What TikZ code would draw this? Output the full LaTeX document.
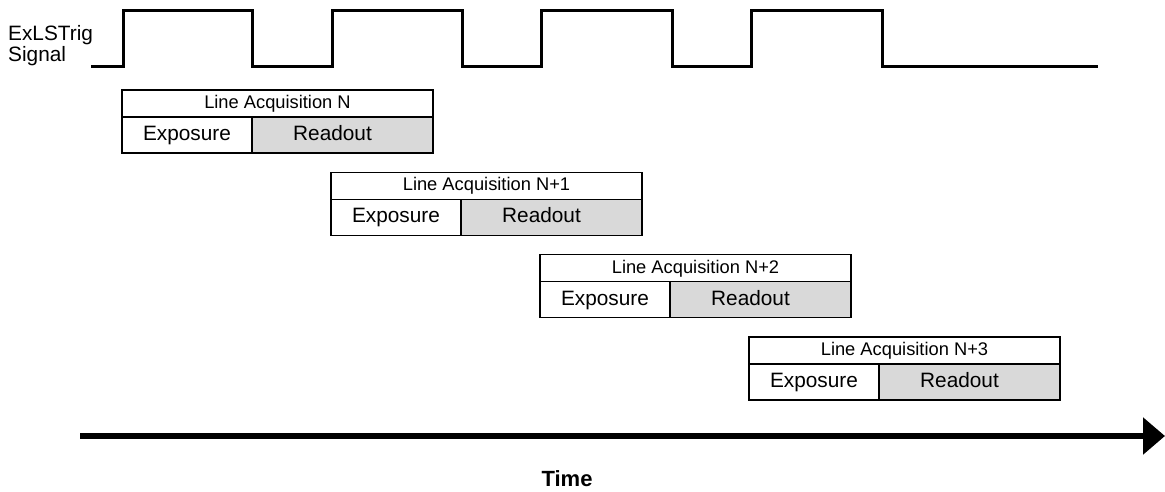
\documentclass[tikz,border=0pt]{standalone}
\usepackage{fontspec}
\setmainfont{Liberation Sans}
\usetikzlibrary{arrows.meta,positioning}

\begin{document}
\begin{tikzpicture}[x=1pt,y=-1pt,
	head/.style={draw, line width=1.2pt, minimum width=311pt, minimum height=27pt,
		inner sep=0pt, outer sep=0pt, text height=13pt, text depth=3pt,
		font=\fontsize{18.3}{20}\selectfont},
	cell/.style={draw, line width=1.2pt, minimum height=36pt,
		inner sep=0pt, outer sep=0pt, text height=15pt, text depth=4pt,
		font=\fontsize{20.8}{22}\selectfont}]
	\path[use as bounding box] (0,0) rectangle (1165,491);
	% Trigger signal with its label
	\node[anchor=west, align=left, inner sep=0pt, font=\fontsize{20.8}{21}\selectfont] (siglabel) at (8,46) {ExLSTrig\\Signal};
	\draw[line width=3pt] (91,66) -- (123,66) -- (123,10) -- (252,10) -- (252,66)
		-- (332,66) -- (332,10) -- (462,10) -- (462,66)
		-- (541,66) -- (541,10) -- (672,10) -- (672,66)
		-- (751,66) -- (751,10) -- (882,10) -- (882,66) -- (1098,66);
	
	% One acquisition per trigger, shifted in time
	\foreach \i in {0,...,3} {
		\node[head, anchor=north west] (head\i) at ({122+209*\i},{90+82.3*\i}) {Line Acquisition N\ifnum\i>0 +\i\fi};
		\node[cell, minimum width=130pt, anchor=north west] (exp\i) at (head\i.south west) {Exposure};
		\node[cell, minimum width=181pt, fill=gray!30, anchor=north west] (read\i) at (exp\i.north east) {Readout\hspace*{20pt}};
	}
	
	% Time axis
	\coordinate (tstart) at (80,436);
	\coordinate (tend) at (1165,436);
	\draw[line width=5.5pt, -{Triangle[length=22pt,width=36pt]}] (tstart) -- (tend);
	\node[font=\bfseries\fontsize{22}{24}\selectfont] (time) at (567,479) {Time};
\end{tikzpicture}
\end{document}
